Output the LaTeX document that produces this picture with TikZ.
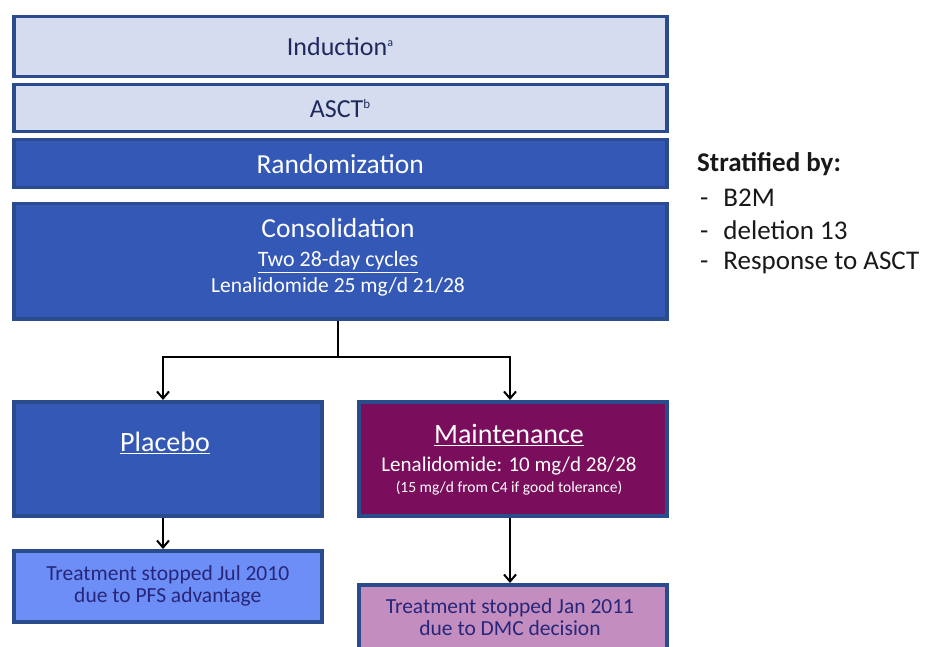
\documentclass[tikz,border=0pt]{standalone}
\usepackage{fontspec}
\setmainfont{Carlito}
\usetikzlibrary{arrows.meta}
\definecolor{edgeblue}{HTML}{2B4C8C}
\definecolor{paleblue}{HTML}{D5DCEF}
\definecolor{royal}{HTML}{3358B6}
\definecolor{plum}{HTML}{7A0E5C}
\definecolor{skyblue}{HTML}{6C8EF6}
\definecolor{mauve}{HTML}{C38DBF}
\definecolor{navytext}{HTML}{1F2A5C}
\definecolor{stoptext}{HTML}{27267A}
\tikzset{
  box/.style={draw=edgeblue, line width=3.5pt, rectangle, inner sep=0pt, anchor=north west},
  lightbox/.style={box, fill=paleblue, text=navytext},
  darkbox/.style={box, fill=royal, text=white},
  purplebox/.style={box, fill=plum, text=white},
  stopblue/.style={box, fill=skyblue, text=stoptext},
  stoppink/.style={box, fill=mauve, text=stoptext},
  link/.style={draw=black, line width=2.2pt},
  arrowlink/.style={link, -{Straight Barb[length=7pt, width=12pt, line width=2pt]}},
  txt/.style={inner sep=0pt, align=center},
  sidetxt/.style={anchor=west, inner sep=0pt, text=black!90, font=\fontsize{27}{30}\selectfont}
}
\begin{document}
\begin{tikzpicture}[x=1pt, y=-1pt]
\useasboundingbox (0,0) rectangle (926,647);
\clip (0,0) rectangle (926,647);
\fill[white] (0,0) rectangle (926,647);

% stacked study phases
\node[lightbox, minimum width=653pt, minimum height=60pt] (ind) at (12,15) {};
\node[txt, text=navytext, font=\fontsize{26}{30}\selectfont] at (ind.center) {Induction\textsuperscript{\fontsize{12}{12}\selectfont a}};
\node[lightbox, minimum width=653pt, minimum height=47pt] (asct) at (12,83) {};
\node[txt, text=navytext, font=\fontsize{26}{30}\selectfont] at (asct.center) {ASCT\textsuperscript{\fontsize{13}{13}\selectfont b}};
\node[darkbox, minimum width=653pt, minimum height=48pt] (rand) at (12,138) {};
\node[txt, text=white, font=\fontsize{27.5}{30}\selectfont] at (rand.center) {Randomization};

\node[darkbox, minimum width=653pt, minimum height=115pt] (cons) at (12,202) {};
\node[txt, text=white, font=\fontsize{27.5}{30}\selectfont] at (338,228) {Consolidation};
\node[txt, text=white, font=\fontsize{22}{25}\selectfont] at (338,262) {\underline{Two 28-day cycles}};
\node[txt, text=white, font=\fontsize{21.5}{25}\selectfont] at (338,287) {Lenalidomide 25 mg/d 21/28};

% two arms
\node[darkbox, minimum width=308pt, minimum height=114pt] (plac) at (12,400) {};
\node[txt, text=white, font=\fontsize{28}{30}\selectfont] at (165,443) {\underline{Placebo}};
\node[purplebox, minimum width=308pt, minimum height=114pt] (maint) at (357,400) {};
\node[txt, text=white, font=\fontsize{28}{30}\selectfont] at (509,435) {\underline{Maintenance}};
\node[txt, text=white, font=\fontsize{21}{24}\selectfont] at (509,466) {Lenalidomide: 10 mg/d 28/28};
\node[txt, text=white, font=\fontsize{15.5}{16}\selectfont] at (509,488) {(15 mg/d from C4 if good tolerance)};

% outcomes
\node[stopblue, minimum width=308pt, minimum height=71pt] (stop1) at (12,549) {};
\node[txt, text=stoptext, font=\fontsize{21.5}{22}\selectfont] at (stop1.center) {Treatment stopped Jul 2010\\due to PFS advantage};
\node[stoppink, minimum width=308pt, minimum height=80pt] (stop2) at (357,583) {};
\node[txt, text=stoptext, font=\fontsize{21.5}{22}\selectfont] at (510,617) {Treatment stopped Jan 2011\\due to DMC decision};

% connectors
\coordinate (split) at (338,357);
\draw[link] (cons.south -| split) -- (split);
\draw[arrowlink] (split) -| ([xshift=151pt]plac.north west);
\draw[arrowlink] (split) -| ([xshift=153pt]maint.north west);
\draw[arrowlink] ([xshift=151pt]plac.south west) -- ([xshift=151pt]stop1.north west);
\draw[arrowlink] ([xshift=153pt]maint.south west) -- ([xshift=153pt]stop2.north west);

% stratification factors
\node[sidetxt, font=\bfseries\fontsize{27}{30}\selectfont] (strat) at (697,164) {Stratified by:};
\node[sidetxt] (f1) at (700,198) {-\hspace{15pt}B2M};
\node[sidetxt] (f2) at (700,230) {-\hspace{15pt}deletion 13};
\node[sidetxt] (f3) at (700,263) {-\hspace{15pt}Response to ASCT};
\end{tikzpicture}
\end{document}
